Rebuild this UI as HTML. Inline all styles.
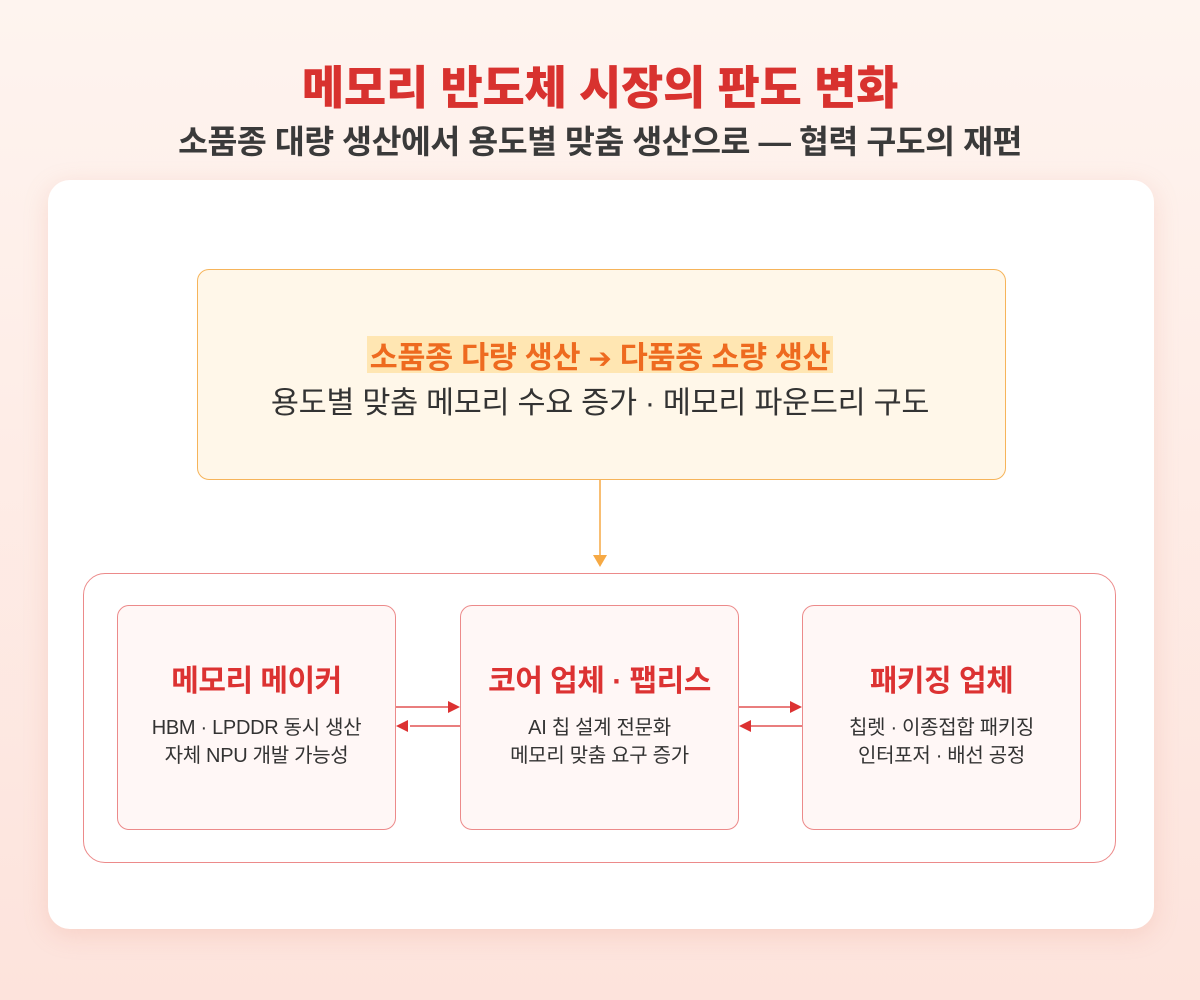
<!DOCTYPE html>
<html><head><meta charset="utf-8"><style>
*{margin:0;padding:0;box-sizing:border-box}
body{width:1200px;height:1000px;background:linear-gradient(180deg,#fef4ef 0%,#fde3dc 100%);font-family:"Liberation Sans","Noto Sans CJK KR",sans-serif;position:relative;overflow:hidden}
.abs{position:absolute}
.t1{left:0;width:1200px;top:52px;text-align:center;font-size:46px;font-weight:900;color:#d8322f;letter-spacing:-0.3px}
.t2{left:0;width:1200px;top:116px;text-align:center;font-size:32.5px;font-weight:700;color:#3a3a3a;letter-spacing:-0.5px}
.card{left:48px;top:180px;width:1106px;height:749px;background:#fff;border-radius:22px;box-shadow:0 6px 24px rgba(230,150,130,0.25)}
.top{left:197px;top:269px;width:809px;height:211px;background:#fff7e9;border:1px solid #f6b45a;border-radius:12px}
.hl{left:367px;top:336px;width:466px;height:37px;background:#ffe6b2}
.hlt{left:0;width:1200px;top:333px;text-align:center;font-size:30.5px;font-weight:700;color:#ee6a1f;letter-spacing:-0.3px}
.sub{left:0;width:1200px;top:378px;text-align:center;font-size:30.5px;color:#333;letter-spacing:-0.3px}
.outer{left:83px;top:573px;width:1033px;height:290px;border:1px solid #ec8a8a;border-radius:22px}
.box{top:605px;width:279px;height:225px;background:#fff7f6;border:1px solid #ec8a8a;border-radius:12px;text-align:center}
.box h3{margin-top:50px;font-size:30px;font-weight:700;color:#dc3232;letter-spacing:-0.5px}
.box p{margin-top:14px;font-size:20px;line-height:28px;color:#333;letter-spacing:-0.3px}
</style></head><body>
<div class="abs t1">메모리 반도체 시장의 판도 변화</div>
<div class="abs t2">소품종 대량 생산에서 용도별 맞춤 생산으로 — 협력 구도의 재편</div>
<div class="abs card"></div>
<div class="abs top"></div>
<div class="abs hl"></div>
<div class="abs hlt">소품종 다량 생산 <b style="font-family:'DejaVu Sans';font-size:28px">➔</b> 다품종 소량 생산</div>
<div class="abs sub">용도별 맞춤 메모리 수요 증가 · 메모리 파운드리 구도</div>
<div class="abs outer"></div>
<div class="abs box" style="left:117px"><h3>메모리 메이커</h3><p>HBM · LPDDR 동시 생산<br>자체 NPU 개발 가능성</p></div>
<div class="abs box" style="left:460px"><h3>코어 업체 · 팹리스</h3><p>AI 칩 설계 전문화<br>메모리 맞춤 요구 증가</p></div>
<div class="abs box" style="left:802px"><h3>패키징 업체</h3><p>칩렛 · 이종접합 패키징<br>인터포저 · 배선 공정</p></div>
<svg class="abs" style="left:0;top:0" width="1200" height="1000">
<line x1="600" y1="480" x2="600" y2="556" stroke="#f6a944" stroke-width="1.5"/>
<polygon points="593,555 607,555 600,567" fill="#f6a944"/>
<g stroke="#dc3232" stroke-width="1.3" fill="#dc3232">
<line x1="396" y1="707" x2="450" y2="707"/><polygon points="448,701 460,707 448,713" stroke="none"/>
<line x1="410" y1="726" x2="460" y2="726"/><polygon points="408,720 396,726 408,732" stroke="none"/>
<line x1="739" y1="707" x2="792" y2="707"/><polygon points="790,701 802,707 790,713" stroke="none"/>
<line x1="751" y1="726" x2="802" y2="726"/><polygon points="751,720 739,726 751,732" stroke="none"/>
</g>
</svg>
</body></html>
